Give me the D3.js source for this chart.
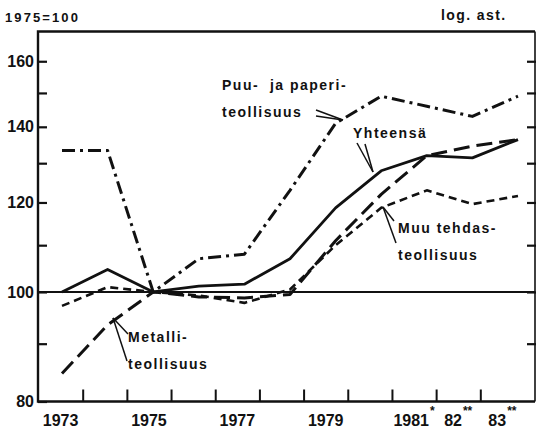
<!DOCTYPE html>
<html>
<head>
<meta charset="utf-8">
<script src="https://cdn.jsdelivr.net/npm/d3@7"></script>
<style>
  body { margin: 0; background: #fff; }
  svg { display: block; }
  svg text { font-family: "Liberation Sans", Arial, sans-serif; font-weight: bold; }
</style>
</head>
<body>
<svg id="chart" width="536" height="429"></svg>
<script>
// indeksit, 1975 = 100
const years = [1973, 1974, 1975, 1976, 1977, 1978, 1979, 1980, 1981, 1982, 1983];
const yhteensa = [100, 104.7, 100, 101.2, 101.6, 107, 118.7, 128, 132, 131.4, 136.4];
const puuJaPaperi = [133.4, 133.4, 100, 107, 108, 123, 141, 149, 146, 143, 149];
const metalli = [84.7, 93.5, 100, 99, 98.8, 99.5, 111, 122, 132, 134.6, 136.4];
const muuTehdas = [97.2, 101, 100, 99.3, 97.8, 100.5, 110, 118.7, 123, 119.6, 121.6];

const yTicks = [80, 90, 100, 110, 120, 130, 140, 150, 160];
const yLabelled = [80, 100, 120, 140, 160];
const xLabelYears = [1973, 1975, 1977, 1979, 1981, 1982, 1983];
const xLabelText = ['1973', '1975', '1977', '1979', '1981', '82', '83'];
const xLabelMark = ['', '', '', '', '*', '**', '**'];

const series = [
  { name: 'yhteensa', values: yhteensa, dash: null, width: 2.8 },
  { name: 'puu', values: puuJaPaperi, dash: '13,5,3,5', width: 3 },
  { name: 'metalli', values: metalli, dash: '16,7', width: 3 },
  { name: 'muu', values: muuTehdas, dash: '8,5', width: 2.6 }
];

const plotLeft = 38, plotRight = 535, plotTop = 31.5, plotBottom = 401.5;
const ink = '#111';

const svg = d3.select('#chart');

// pisteet eivät osu alkuperäisessä kuvassa tarkalleen jakoviivojen väliin
const x = d3.scaleLinear().domain([1973, 1983]).range([62, 518]);
const xAxisScale = d3.scaleLinear().domain([1973, 1983]).range([60.6, 502.4]);
const y = d3.scaleLog().domain([80, 170]).range([plotBottom, plotTop]);

//kehys
svg.append('path')
  .attr('d', `M${plotRight},${plotTop}H${plotLeft}V${plotBottom}H${plotRight}`)
  .attr('fill', 'none')
  .attr('stroke', ink)
  .attr('stroke-width', 2.4);
svg.append('line')
  .attr('x1', plotRight).attr('x2', plotRight)
  .attr('y1', plotTop).attr('y2', plotBottom)
  .attr('stroke', ink)
  .attr('stroke-width', 1.6);

//vasen akseli
const yAxisLeft = d3.axisLeft(y)
  .tickValues(yTicks)
  .tickSize(-9)
  .tickFormat(d => yLabelled.includes(d) ? d : '');
const gl = svg.append('g').attr('transform', `translate(${plotLeft},0)`).call(yAxisLeft);
gl.select('.domain').remove();
gl.selectAll('.tick line').attr('stroke', ink).attr('stroke-width', 2.2);
gl.selectAll('.tick text')
  .attr('x', -4)
  .attr('fill', ink)
  .style('font-size', '16px');

//oikea akseli
const yAxisRight = d3.axisRight(y).tickValues(yTicks.filter(d => d > 80)).tickSize(-9).tickFormat('');
const gr = svg.append('g').attr('transform', `translate(${plotRight + 1},0)`).call(yAxisRight);
gr.select('.domain').remove();
gr.selectAll('.tick line').attr('stroke', ink).attr('stroke-width', 2.2);

//vaaka-akselin jakoviivat vuosien välissä
const boundaries = years.slice(0, -1).map(d => d + 0.5);
const xTicks = d3.axisBottom(xAxisScale).tickValues(boundaries).tickSize(-12).tickFormat('');
const gx = svg.append('g').attr('transform', `translate(0,${plotBottom})`).call(xTicks);
gx.select('.domain').remove();
gx.selectAll('.tick line').attr('stroke', ink).attr('stroke-width', 2);

//vuosien tekstit
const xLabels = svg.append('g')
  .selectAll('text')
  .data(xLabelYears)
  .enter()
  .append('text')
  .attr('x', d => xAxisScale(d))
  .attr('y', 426)
  .attr('text-anchor', 'middle')
  .attr('fill', ink)
  .style('font-size', '16px');
xLabels.append('tspan').text((d, i) => xLabelText[i]);
xLabels.append('tspan')
  .attr('dy', -11)
  .attr('dx', 1)
  .style('font-size', '12px')
  .text((d, i) => xLabelMark[i]);

//100-viiva
svg.append('line')
  .attr('x1', plotLeft).attr('x2', plotRight)
  .attr('y1', y(100)).attr('y2', y(100))
  .attr('stroke', ink)
  .attr('stroke-width', 2);

//sarjat
const toPath = d3.line()
  .x((d, i) => x(years[i]))
  .y(d => y(d));

svg.append('g')
  .selectAll('path')
  .data(series)
  .enter()
  .append('path')
  .attr('d', d => toPath(d.values))
  .attr('fill', 'none')
  .attr('stroke', ink)
  .attr('stroke-width', d => d.width)
  .attr('stroke-dasharray', d => d.dash)
  .attr('stroke-linejoin', 'round');

//otsikot
svg.append('text')
  .attr('x', 5).attr('y', 22)
  .attr('fill', ink)
  .style('font-size', '13px')
  .style('letter-spacing', '2.1px')
  .text('1975=100');
svg.append('text')
  .attr('x', 441).attr('y', 20)
  .attr('fill', ink)
  .style('font-size', '14px')
  .style('letter-spacing', '1.4px')
  .text('log. ast.');

//selitteet
const notes = [
  { lines: ['Puu-  ja paperi-', 'teollisuus'], x: 222, y: 90,
    pointers: [[[316, 110], [343, 120]], [[316, 116], [343, 120]]] },
  { lines: ['Yhteensä'], x: 353, y: 138,
    pointers: [[[357, 143], [373, 172]], [[365, 144], [373, 172]]] },
  { lines: ['Muu tehdas-', 'teollisuus'], x: 398, y: 233,
    pointers: [[[383, 207], [396, 243]], [[383, 207], [394, 221]]] },
  { lines: ['Metalli-', 'teollisuus'], x: 128, y: 342,
    pointers: [[[113, 318], [127, 361]], [[113, 318], [128, 334]]] }
];

const noteGroups = svg.append('g')
  .selectAll('g')
  .data(notes)
  .enter()
  .append('g');

noteGroups.append('text')
  .attr('fill', ink)
  .style('font-size', '14px')
  .style('letter-spacing', '1.5px')
  .selectAll('tspan')
  .data(d => d.lines.map((t, i) => ({ t, x: d.x, y: d.y + i * 27 })))
  .enter()
  .append('tspan')
  .attr('x', d => d.x)
  .attr('y', d => d.y)
  .style('white-space', 'pre')
  .text(d => d.t);

noteGroups.selectAll('line')
  .data(d => d.pointers)
  .enter()
  .append('line')
  .attr('x1', d => d[0][0]).attr('y1', d => d[0][1])
  .attr('x2', d => d[1][0]).attr('y2', d => d[1][1])
  .attr('stroke', ink)
  .attr('stroke-width', 1.5);
</script>
</body>
</html>
